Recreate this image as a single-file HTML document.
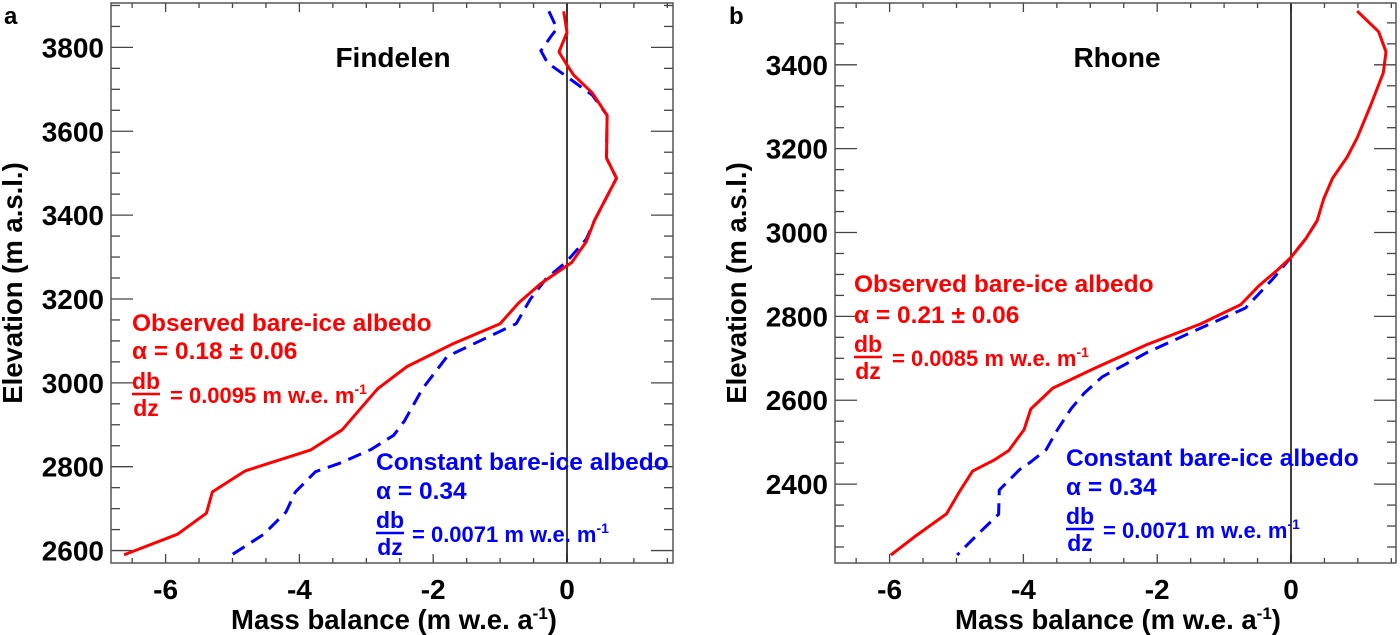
<!DOCTYPE html>
<html><head><meta charset="utf-8"><style>
html,body{margin:0;padding:0;background:#fff;}
svg{display:block;font-family:"Liberation Sans",Arial,sans-serif;font-weight:bold;}
</style></head><body>
<svg id="chart" width="1400" height="635" viewBox="0 0 1400 635" xmlns="http://www.w3.org/2000/svg"></svg>
<script>
// Panel a (Findelen)
const findelenObsMB = [-0.05,0,-0.12,0,0.1,0.38,0.6,0.59,0.74,0.41,0.29,0.07,-0.39,-0.72,-1.0,-1.72,-2.39,-2.83,-3.36,-3.83,-4.81,-5.3,-5.39,-5.82,-6.62];
const findelenObsElev = [3886,3836,3789,3758,3734,3691,3638,3536,3488,3387,3337,3287,3237,3191,3141,3092,3039,2986,2888,2840,2790,2740,2689,2639,2590];
const findelenConstMB = [-0.27,-0.15,-0.24,-0.39,-0.29,0,0.38,0.6,0.59,0.74,0.41,0.29,0,-0.32,-0.55,-0.76,-1.79,-2.16,-2.43,-2.59,-2.93,-3.4,-3.76,-4.06,-4.2,-4.53,-5.01];
const findelenConstElev = [3886,3845,3826,3792,3763,3730,3686,3638,3536,3488,3387,3343,3290,3247,3199,3141,3063,2986,2909,2875,2841,2808,2788,2740,2692,2639,2590];
const findelenYTicks = [2600,2800,3000,3200,3400,3600,3800];
// Panel b (Rhone)
const rhoneObsMB = [0.99,1.31,1.42,1.38,1.19,0.99,0.84,0.62,0.49,0.39,0.22,0,-0.18,-0.48,-0.75,-1.35,-2.15,-2.95,-3.56,-3.89,-3.99,-4.22,-4.43,-4.76,-4.96,-5.15,-5.63,-5.98];
const rhoneObsElev = [3528,3479,3431,3381,3303,3226,3180,3129,3081,3028,2985,2941,2914,2873,2828,2782,2733,2675,2629,2579,2530,2480,2458,2431,2381,2329,2274,2231];
const rhoneConstMB = [0.39,0.22,0,-0.28,-0.68,-1.35,-2.15,-2.82,-3.09,-3.29,-3.49,-3.66,-3.89,-4.06,-4.36,-4.37,-4.69,-4.99];
const rhoneConstElev = [3028,2985,2941,2888,2820,2772,2714,2656,2617,2579,2530,2482,2453,2434,2386,2328,2279,2231];
const rhoneYTicks = [2400,2600,2800,3000,3200,3400];
const xTicks = [-6,-4,-2,0];

const NS = "http://www.w3.org/2000/svg";
const svg = document.getElementById('chart');
function mk(tag, attrs, parent, text){
  const e = document.createElementNS(NS, tag);
  for (const k in attrs) e.setAttribute(k, attrs[k]);
  if (text !== undefined) e.textContent = text;
  (parent||svg).appendChild(e);
  return e;
}

function panel(cfg){
  const g = mk('g', {});
  
  
  const L=cfg.left, R=cfg.right, T=3, B=563;
  const xs = v => cfg.x0 + v*66.9;
  const ys = e => cfg.yRef - (e - cfg.eRef)*0.4193;
  const xMin=(L-cfg.x0)/66.9, xMax=(R-cfg.x0)/66.9;
  const eMax=cfg.eRef+(cfg.yRef-T)/0.4193, eMin=cfg.eRef-(B-cfg.yRef)/0.4193;
  const tk = mk('g', {stroke:'#444','stroke-width':1.3}, g);
  
  
  for (let v=Math.ceil(xMin*2)/2; v<=xMax; v+=0.5){
    const major = Math.abs(v - Math.round(v/2)*2) < 1e-6;
    const len = major?9:5; const x=xs(v);
    mk('line',{x1:x,y1:B,x2:x,y2:B-len},tk);
    mk('line',{x1:x,y1:T,x2:x,y2:T+len},tk);
  }
  for (let e=Math.ceil(eMin/50)*50; e<=eMax; e+=50){
    const major = e%200===0; const len=major?22:9; const y=ys(e);
    mk('line',{x1:L,y1:y,x2:L+len,y2:y},tk);
    mk('line',{x1:R,y1:y,x2:R-len,y2:y},tk);
  }
  const z = mk('line',{x1:xs(0),y1:T,x2:xs(0),y2:B,stroke:'#000','stroke-width':1.5},g);
  
  
  const pts = (xa,ya)=>xa.map((v,i)=>xs(v).toFixed(1)+','+ys(ya[i]).toFixed(1)).join(' ');
  const blue = mk('polyline',{points:pts(cfg.cMB,cfg.cEl),fill:'none',stroke:'#0000ff','stroke-width':3,'stroke-dasharray':'14,8'},g);
  
  
  const red = mk('polyline',{points:pts(cfg.oMB,cfg.oEl),fill:'none',stroke:'#ff0000','stroke-width':3,'stroke-linejoin':'round'},g);
  
  
  const fr = mk('rect',{x:L,y:T,width:R-L,height:B-T,fill:'none',stroke:'#555','stroke-width':1.5},g);
  
  
  xTicks.forEach(v=>{
    const t = mk('text',{x:xs(v),y:599,'text-anchor':'middle','font-size':28},g,String(v));
    
    
  });
  cfg.yTicks.forEach(e=>{
    const t = mk('text',{x:L-7,y:ys(e)+10,'text-anchor':'end','font-size':28},g,String(e));
    
    
  });
  return {g, xs, ys};
}

function addText(parent, name, attrs, txt){
  const t = mk('text', attrs, parent, txt);
  
  
  return t;
}
function xTitle(g, cx, name){
  const t = mk('text',{x:cx,y:629,'text-anchor':'middle','font-size':27.5},g);
  
  
  t.appendChild(document.createTextNode('Mass balance (m w.e. a'));
  mk('tspan',{dy:-10,'font-size':17},t,'-1');
  mk('tspan',{dy:10},t,')');
}
function yTitle(g, cx, name){
  addText(g, name, {x:0,y:0,'text-anchor':'middle','font-size':27.5,transform:`translate(${cx},283) rotate(-90)`}, 'Elevation (m a.s.l.)');
}
function annot(g, name, color, x, y1, y2, l1, l2, dbY, eqX, eqVal){
  addText(g, name+'-title', {x:x,y:y1+9,fill:color,'font-size':24.5}, l1);
  addText(g, name+'-alpha', {x:x,y:y2+9,fill:color,'font-size':24.5}, l2);
  addText(g, name+'-db', {x:x+14,y:dbY+8,fill:color,'font-size':23,'text-anchor':'middle'}, 'db');
  addText(g, name+'-dz', {x:x+14,y:dbY+35,fill:color,'font-size':23,'text-anchor':'middle'}, 'dz');
  const ln = mk('line',{x1:x,y1:dbY+13,x2:x+28,y2:dbY+13,stroke:color,'stroke-width':2.5},g);
  
  
  const t = mk('text',{x:eqX,y:dbY+22,fill:color,'font-size':22},g);
  
  
  t.appendChild(document.createTextNode('= '+eqVal+' m w.e. m'));
  mk('tspan',{dy:-9,'font-size':14},t,'-1');
}

const A = panel({name:'findelen',left:111,right:673,x0:567,yRef:47.4,eRef:3800,
  oMB:findelenObsMB,oEl:findelenObsElev,cMB:findelenConstMB,cEl:findelenConstElev,yTicks:findelenYTicks});
addText(A.g,'panel-a-label',{x:4,y:24,'font-size':24},'a');
addText(A.g,'findelen-title',{x:393,y:67,'font-size':28,'text-anchor':'middle'},'Findelen');
yTitle(A.g, 22, 'findelen-y-axis-title');
xTitle(A.g, 394, 'findelen-x-axis-title');
annot(A.g,'findelen-observed-annotation','#ff0000',132,322,350,'Observed bare-ice albedo','α = 0.18 ± 0.06',381,170,'0.0095');
annot(A.g,'findelen-constant-annotation','#0000ff',376,461,490,'Constant bare-ice albedo','α = 0.34',520,412,'0.0071');

const Bp = panel({name:'rhone',left:835,right:1396,x0:1291,yRef:64.8,eRef:3400,
  oMB:rhoneObsMB,oEl:rhoneObsElev,cMB:rhoneConstMB,cEl:rhoneConstElev,yTicks:rhoneYTicks});
addText(Bp.g,'panel-b-label',{x:729,y:24,'font-size':24},'b');
addText(Bp.g,'rhone-title',{x:1117,y:67,'font-size':28,'text-anchor':'middle'},'Rhone');
yTitle(Bp.g, 746, 'rhone-y-axis-title');
xTitle(Bp.g, 1118, 'rhone-x-axis-title');
annot(Bp.g,'rhone-observed-annotation','#ff0000',854,283,314,'Observed bare-ice albedo','α = 0.21 ± 0.06',344,892,'0.0085');
annot(Bp.g,'rhone-constant-annotation','#0000ff',1066,457,486,'Constant bare-ice albedo','α = 0.34',516,1103,'0.0071');
</script>
</body></html>
